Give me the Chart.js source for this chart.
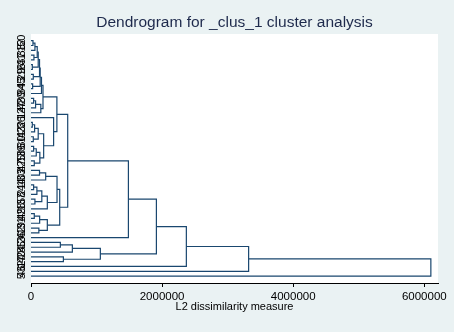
<!DOCTYPE html>
<html>
<head>
<meta charset="utf-8">
<script src="https://cdn.jsdelivr.net/npm/chart.js@4.4.1/dist/chart.umd.min.js"></script>
<style>
  html, body { margin: 0; padding: 0; background: #eaf2f3; }
  canvas { display: block; }
</style>
</head>
<body>
<canvas id="dendro" width="454" height="332"></canvas>
<script>
// Observation labels, top to bottom in dendrogram order
const leafLabels = ["50","12","38","7","41","23","16","29","3","45","34","9","20","48","27","14","1","36","22","43",
                    "11","30","6","39","18","25","47","2","33","10","44","21","8","37","15","28","49","4","31","19",
                    "42","26","13","35","24","40","17","32","46","5"];

// Linkage: node ids 0-49 are the leaves above, merge k creates node 50 + k
const mergeLeft   = [0, 50, 3, 51, 5, 53, 7, 55, 9, 57, 59, 12, 61, 62, 60,
                     17, 65, 20, 66, 22, 69, 25, 70, 68, 16, 64,
                     27, 76, 30, 78, 33, 79, 81, 77, 36, 84, 39, 85, 83, 75,
                     89, 42, 91, 45, 92, 90, 95, 96, 97];
const mergeRight  = [1, 2, 4, 52, 6, 54, 8, 56, 10, 58, 11, 13, 14, 15, 63,
                     18, 19, 21, 67, 23, 24, 26, 71, 72, 73, 74,
                     28, 29, 31, 32, 34, 80, 35, 82, 37, 38, 40, 86, 87, 88,
                     41, 43, 44, 46, 93, 94, 47, 48, 49];
const mergeHeight = [30000, 60000, 45000, 95000, 20000, 110000, 35000, 130000, 25000, 140000, 160000, 40000, 70000, 150000, 183000,
                     20000, 55000, 35000, 110000, 40000, 80000, 50000, 135000, 193000, 345000, 395000,
                     130000, 224000, 40000, 90000, 60000, 165000, 249000, 397000, 50000, 132000, 120000, 249000, 438000, 560000,
                     1486000, 448000, 631000, 494000, 1058000, 1913000, 2370000, 3320000, 6100000];

const xTickValues = [0, 2000000, 4000000, 6000000];
const titleText = "Dendrogram for _clus_1 cluster analysis";
const xAxisTitle = "L2 dissimilarity measure";

const NAVY = "#1a476f";
const FONT = '"Liberation Sans", Arial, sans-serif';

// Node vertical position (leaf order) and merge height
const nodePos = leafLabels.map((_, i) => i);
const nodeHeight = leafLabels.map(() => 0);
const datasets = [];
mergeHeight.forEach((h, k) => {
  const l = mergeLeft[k], r = mergeRight[k];
  nodePos.push((nodePos[l] + nodePos[r]) / 2);
  nodeHeight.push(h);
  datasets.push({
    data: [
      { x: nodeHeight[l], y: nodePos[l] },
      { x: h, y: nodePos[l] },
      { x: h, y: nodePos[r] },
      { x: nodeHeight[r], y: nodePos[r] }
    ],
    showLine: true,
    borderColor: NAVY,
    borderWidth: 1.2,
    pointRadius: 0,
    fill: false,
    tension: 0
  });
});

const backdrop = {
  id: "backdrop",
  beforeDraw(chart) {
    const { ctx, chartArea: a } = chart;
    ctx.save();
    ctx.fillStyle = "#eaf2f3";
    ctx.fillRect(0, 0, chart.width, chart.height);
    ctx.fillStyle = "#ffffff";
    ctx.fillRect(a.left, a.top, a.right - a.left, a.bottom - a.top);
    ctx.restore();
  }
};

// Vertical observation labels along the left edge
const leafLabelPlugin = {
  id: "leafLabels",
  afterDraw(chart) {
    const { ctx } = chart;
    const ys = chart.scales.y;
    ctx.save();
    ctx.fillStyle = "#000000";
    ctx.font = "11px " + FONT;
    ctx.textAlign = "center";
    ctx.textBaseline = "middle";
    leafLabels.forEach((lab, i) => {
      const y = ys.getPixelForValue(i);
      ctx.save();
      ctx.translate(22, y);
      ctx.rotate(-Math.PI / 2);
      ctx.fillText(lab, 0, 0);
      ctx.restore();
    });
    ctx.restore();
  }
};

new Chart(document.getElementById("dendro"), {
  type: "scatter",
  data: { datasets },
  plugins: [backdrop, leafLabelPlugin],
  options: {
    responsive: false,
    animation: false,
    devicePixelRatio: 1,
    layout: { padding: { left: 31, right: 16, top: 0, bottom: 0 } },
    plugins: {
      legend: { display: false },
      tooltip: { enabled: false },
      title: {
        display: true,
        text: titleText,
        color: "#1e2a4c",
        font: { family: FONT, size: 15.5, weight: "normal" },
        padding: { top: 13.7, bottom: 1.7 }
      }
    },
    scales: {
      x: {
        type: "linear",
        min: 0,
        max: 6209000,
        afterFit(s) { s.height = 49; },
        afterBuildTicks(s) { s.ticks = xTickValues.map(v => ({ value: v })); },
        border: { display: true, color: "#000000", width: 1 },
        grid: { drawOnChartArea: false, drawTicks: true, tickLength: 4, color: "#000000", lineWidth: 1 },
        ticks: {
          color: "#000000",
          padding: 3,
          font: { family: FONT, size: 11.5 },
          maxRotation: 0,
          callback: v => String(v)
        },
        title: {
          display: true,
          text: xAxisTitle,
          color: "#000000",
          font: { family: FONT, size: 11 },
          padding: { top: 0, bottom: 18 }
        }
      },
      y: {
        type: "linear",
        display: false,
        reverse: true,
        min: -1.39,
        max: 50.44
      }
    }
  }
});
</script>
</body>
</html>
